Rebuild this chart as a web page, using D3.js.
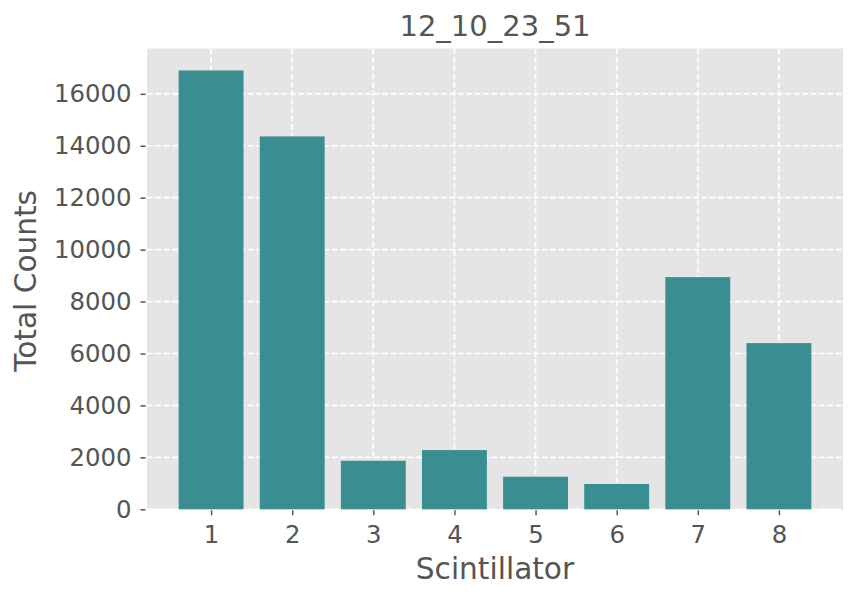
<!DOCTYPE html>
<html>
<head>
<meta charset="utf-8">
<script src="https://cdn.jsdelivr.net/npm/d3@7"></script>
<style>
  html, body { margin: 0; padding: 0; background: #fff; }
  svg { display: block; }
  text { font-family: "DejaVu Sans", sans-serif; fill: #555555; }
</style>
</head>
<body>
<svg id="chart" width="858" height="601"></svg>
<script>
const categories = [1, 2, 3, 4, 5, 6, 7, 8];
const counts = [16900, 14360, 1870, 2280, 1255, 975, 8940, 6400];
const yTicks = [0, 2000, 4000, 6000, 8000, 10000, 12000, 14000, 16000];
const title = "12_10_23_51";
const xLabel = "Scintillator";
const yLabel = "Total Counts";

const svg = d3.select("#chart");
const L = 147, R = 843, T = 48.5, B = 509.3;
const barW = 0.8;
const xmin = 1 - barW / 2, xmax = 8 + barW / 2, xm = (xmax - xmin) * 0.05;
const x = d3.scaleLinear().domain([xmin - xm, xmax + xm]).range([L, R]);
const ymax = d3.max(counts) * 1.05;
const y = d3.scaleLinear().domain([0, ymax]).range([B, T]);

svg.append("rect").attr("x", L).attr("y", T).attr("width", R - L).attr("height", B - T).attr("fill", "#E5E5E5");

// grid
const grid = svg.append("g");
grid.selectAll("line.gy").data(yTicks).join("line")
  .attr("x1", L).attr("x2", R).attr("y1", d => y(d)).attr("y2", d => y(d))
  .attr("stroke", "#fff").attr("stroke-width", 1.7).attr("stroke-dasharray", "5.8,2.6");
grid.selectAll("line.gx").data(categories).join("line")
  .attr("y1", T).attr("y2", B).attr("x1", d => x(d)).attr("x2", d => x(d))
  .attr("stroke", "#fff").attr("stroke-width", 1.7).attr("stroke-dasharray", "5.8,2.6");

// bars
svg.append("g").selectAll("rect").data(categories).join("rect")
  .attr("x", d => x(d - barW / 2))
  .attr("width", d => x(d + barW / 2) - x(d - barW / 2))
  .attr("y", (d, i) => y(counts[i]))
  .attr("height", (d, i) => B - y(counts[i]))
  .attr("fill", "#3A8D91");

// axes
const yAxis = d3.axisLeft(y).tickValues(yTicks).tickSize(5).tickPadding(9).tickFormat(d3.format("d"));
const gy = svg.append("g").attr("transform", `translate(${L - 1.5},0)`).call(yAxis);
gy.select(".domain").remove();
gy.selectAll(".tick line").attr("stroke", "#555").attr("stroke-width", 1.5);
gy.selectAll(".tick text").style("font-size", "24.4px").attr("fill", "#555");

const xAxis = d3.axisBottom(x).tickValues(categories).tickSize(5).tickPadding(10).tickFormat(d3.format("d"));
const gx = svg.append("g").attr("transform", `translate(0,${B + 1})`).call(xAxis);
gx.select(".domain").remove();
gx.selectAll(".tick line").attr("stroke", "#555").attr("stroke-width", 1.5);
gx.selectAll(".tick text").style("font-size", "24.4px").attr("fill", "#555");

svg.append("text").attr("x", (L + R) / 2).attr("y", 36).attr("text-anchor", "middle")
  .style("font-size", "29px").text(title);
svg.append("text").attr("x", (L + R) / 2).attr("y", 579).attr("text-anchor", "middle")
  .style("font-size", "29.6px").text(xLabel);
svg.append("text").attr("transform", `translate(36,${(T + B) / 2 + 2}) rotate(-90)`).attr("text-anchor", "middle")
  .style("font-size", "29.6px").text(yLabel);
</script>
</body>
</html>
